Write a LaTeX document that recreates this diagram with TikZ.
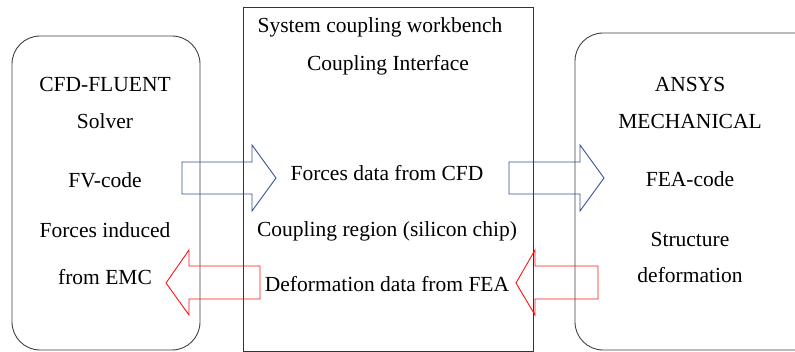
\documentclass[tikz,border=0pt]{standalone}
\usepackage{fontspec}
\setmainfont{Liberation Serif}
\usepackage{tikz}
\definecolor{flowblue}{RGB}{55,80,150}
\definecolor{flowred}{RGB}{255,20,20}
\tikzset{>=latex}
\tikzset{
    label/.style={anchor=base,inner sep=0pt,font=\fontsize{21.5}{25}\selectfont},
    solverbox/.style={draw=black!75,line width=0.9pt,rounded corners=28pt},
    blockarrow/.style={line width=0.9pt,line join=miter}
}

\begin{document}
\begin{tikzpicture}[x=1pt,y=-1pt]
    \useasboundingbox (0,0) rectangle (795,352);
    \clip (0,0) rectangle (795,352);
    % boxes
    \draw[solverbox] (12,36) rectangle (200,350);
    \draw[draw=black!80,line width=0.9pt] (243,7) rectangle (533,351);
    \draw[solverbox] (575,33) rectangle (825,350);
    % left solver
    \node[label] (cfd) at (105,92) {CFD-FLUENT};
    \node[label] (solver) at (105,129) {Solver};
    \node[label] (fv) at (105,188) {FV-code};
    \node[label] (induced) at (105,238) {Forces induced};
    \node[label] (emc) at (105,285) {from EMC};
    % coupling
    \node[label] (workbench) at (380,33) {System coupling workbench};
    \node[label] (interface) at (388,71) {Coupling Interface};
    \node[label] (forces) at (387,181) {Forces data from CFD};
    \node[label] (region) at (387,237) {Coupling region (silicon chip)};
    \node[label] (deform) at (387,292) {Deformation data from FEA};
    % right solver
    \node[label] (ansys) at (690,92) {ANSYS};
    \node[label] (mech) at (690,129) {MECHANICAL};
    \node[label] (fea) at (690,187) {FEA-code};
    \node[label] (structure) at (690,247) {Structure};
    \node[label] (deformation) at (690,283) {deformation};
    % data transfer arrows
    \draw[blockarrow,flowblue] (182,162) -- (252,162) -- (252,145) -- (276,178) -- (252,211) -- (252,194) -- (182,194) -- cycle;
    \draw[blockarrow,flowblue] (509,162) -- (580,162) -- (580,145) -- (604,178) -- (580,211) -- (580,194) -- (509,194) -- cycle;
    \draw[blockarrow,flowred] (598,266) -- (535,266) -- (535,250) -- (516,283) -- (535,315) -- (535,299) -- (598,299) -- cycle;
    \draw[blockarrow,flowred] (260,266) -- (189,266) -- (189,250) -- (166,283) -- (189,315) -- (189,299) -- (260,299) -- cycle;
\end{tikzpicture}
\end{document}
